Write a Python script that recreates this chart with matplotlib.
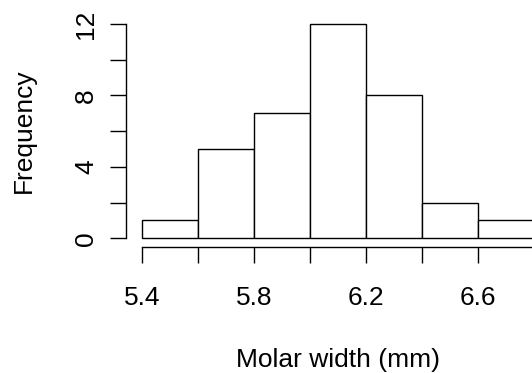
import matplotlib
matplotlib.use("Agg")
import matplotlib.pyplot as plt
from matplotlib.transforms import blended_transform_factory

# histogram of molar widths (counts)
bin_edges = [5.4, 5.6, 5.8, 6.0, 6.2, 6.4, 6.6, 6.8]
counts = [1, 5, 7, 12, 8, 2, 1]

x_ticks = [5.4, 5.6, 5.8, 6.0, 6.2, 6.4, 6.6, 6.8]
x_tick_labels = ["5.4", "", "5.8", "", "6.2", "", "6.6", ""]
y_ticks = [0, 2, 4, 6, 8, 10, 12]
y_tick_labels = ["0", "", "4", "", "8", "", "12"]

plt.rcParams["font.family"] = ["Liberation Sans", "DejaVu Sans"]
fs = 19

W, H = 532, 373
fig = plt.figure(figsize=(W / 100, H / 100), dpi=100)

# plot region in pixels (R style: axes on the region edges, 4% extension)
left, right, top, bottom = 126.0, 550.1, 15.4, 246.9
ax = fig.add_axes([left / W, 1 - bottom / H, (right - left) / W, (bottom - top) / H])

widths = [b - a for a, b in zip(bin_edges[:-1], bin_edges[1:])]
ax.bar(bin_edges[:-1], counts, width=widths, align="edge",
       facecolor="white", edgecolor="black", linewidth=1.0)

ax.set_xlim(5.4 - 0.04 * 1.4, 6.8 + 0.04 * 1.4)
ax.set_ylim(-0.04 * 12, 12 + 0.04 * 12)

for s in ["top", "right"]:
    ax.spines[s].set_visible(False)
ax.spines["left"].set_bounds(0, 12)
ax.spines["bottom"].set_bounds(5.4, 6.8)
for s in ["left", "bottom"]:
    ax.spines[s].set_linewidth(1.0)

ax.set_xticks(x_ticks)
ax.set_xticklabels([])
ax.set_yticks(y_ticks)
ax.set_yticklabels([])
ax.tick_params(axis="both", length=11.5, width=1.0)

# tick labels placed on their baselines, like R does
tx = blended_transform_factory(ax.transData, fig.transFigure)
for v, lab in zip(x_ticks, x_tick_labels):
    if lab:
        fig.text(v, 1 - 305 / H, lab, fontsize=fs, ha="center", va="baseline",
                 transform=tx)
ty = blended_transform_factory(fig.transFigure, ax.transData)
for v, lab in zip(y_ticks, y_tick_labels):
    if lab:
        fig.text(93 / W, v, lab, fontsize=fs, ha="center", va="baseline",
                 rotation=90, rotation_mode="anchor", transform=ty)

fig.text((left + right) / 2 / W, 1 - 367 / H, "Molar width (mm)", fontsize=fs,
         ha="center", va="baseline")
fig.text(31 / W, 1 - (top + bottom) / 2 / H, "Frequency", fontsize=fs,
         rotation=90, rotation_mode="anchor", ha="center", va="baseline")

fig.savefig("out.png", dpi=100)
